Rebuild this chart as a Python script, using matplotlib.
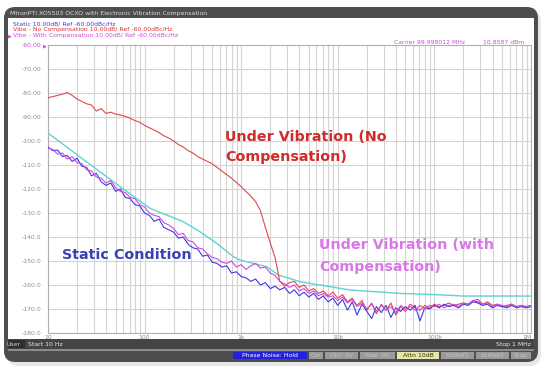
import matplotlib
matplotlib.use("Agg")
import matplotlib.pyplot as plt
from matplotlib.patches import FancyBboxPatch
from matplotlib.transforms import IdentityTransform

W, H = 541, 366

# ---------------- data ----------------
freq_hz = [
    10, 11.2, 12.6, 14.1, 15.8, 17.8, 20, 22.4, 25.1, 28.2,
    31.6, 35.5, 39.8, 44.7, 50.1, 56.2, 63.1, 70.8, 79.4, 89.1,
    100, 112, 126, 141, 158, 178, 200, 224, 251, 282,
    316, 355, 398, 447, 501, 562, 631, 708, 794, 891,
    1000, 1120, 1260, 1410, 1580, 1780, 2000, 2240, 2510, 2820,
    3160, 3550, 3980, 4470, 5010, 5620, 6310, 7080, 7940, 8910,
    10000, 11200, 12600, 14100, 15800, 17800, 20000, 22400, 25100, 28200,
    31600, 35500, 39800, 44700, 50100, 56200, 63100, 70800, 79400, 89100,
    100000, 112000, 126000, 141000, 158000, 178000, 200000, 224000, 251000, 282000,
    316000, 355000, 398000, 447000, 501000, 562000, 631000, 708000, 794000, 891000,
    1000000,
]

static_dbc = [
    -102.5, -104.0, -103.8, -106.5, -106.0, -108.5, -107.2, -110.5, -111.0, -114.5,
    -113.5, -117.0, -118.5, -117.5, -121.0, -120.0, -123.5, -124.0, -126.5, -127.0,
    -130.0, -131.0, -133.5, -132.5, -136.0, -137.0, -138.0, -140.5, -140.0, -143.0,
    -144.5, -145.0, -148.0, -147.5, -150.5, -151.0, -152.5, -152.0, -155.0, -154.5,
    -156.5, -157.0, -158.5, -157.5, -160.0, -159.0, -161.5, -160.5, -162.0, -161.0,
    -163.5, -162.0, -164.5, -163.0, -165.0, -163.5, -166.0, -164.5, -167.0, -165.5,
    -168.5, -166.0, -170.5, -167.0, -172.5, -168.0, -171.0, -174.0, -169.0, -171.5,
    -168.5, -173.5, -169.5, -171.0, -169.0, -170.5, -168.5, -175.0, -169.5, -170.0,
    -168.5, -169.5, -168.0, -169.0, -168.5, -169.5, -168.0, -168.5, -167.0, -167.5,
    -168.5, -168.0, -169.5, -168.5, -169.0, -169.5, -168.5, -169.5, -169.0, -169.5,
    -169.0,
]

vibe_with_comp_dbc = [
    -103.0, -103.5, -105.5, -105.0, -107.5, -106.5, -109.0, -109.5, -112.0, -112.5,
    -115.0, -115.5, -117.5, -116.5, -119.5, -121.0, -121.5, -123.5, -124.0, -126.5,
    -127.5, -130.0, -131.0, -131.5, -134.0, -135.0, -136.5, -139.0, -138.5, -141.5,
    -142.0, -144.5, -145.0, -147.0, -148.5, -149.0, -150.5, -151.0, -150.0, -152.5,
    -151.5, -153.5, -152.0, -151.0, -153.0, -152.5, -155.0, -156.0, -158.5, -159.5,
    -161.0, -160.0, -162.5, -161.5, -163.5, -162.5, -164.5, -163.5, -165.0, -164.5,
    -166.5, -165.0, -167.5, -166.0, -169.0, -167.5, -170.0, -168.0, -171.0, -168.5,
    -170.5, -169.0, -171.5, -168.5, -170.0, -169.0, -170.5, -168.5, -170.0, -168.5,
    -169.0, -168.0, -169.5, -168.5, -168.0, -169.0, -167.5, -168.0, -166.5, -166.0,
    -168.0, -167.5, -169.0, -168.0, -168.5, -169.0, -168.0, -169.0, -168.5, -169.0,
    -168.5,
]

vibe_no_comp_dbc = [
    -82.0, -81.5, -81.0, -80.5, -79.8, -81.0, -82.5, -83.5, -84.5, -85.0,
    -87.5, -86.5, -88.5, -88.0, -88.8, -89.2, -89.8, -90.5, -91.5, -92.2,
    -93.5, -94.5, -95.5, -96.5, -97.8, -98.8, -100.0, -101.5, -102.5, -104.0,
    -105.0, -106.5, -107.5, -108.5, -109.5, -111.0, -112.5, -114.0, -115.5, -117.3,
    -119.0, -121.0, -123.0, -125.3, -129.0, -136.0, -142.5, -148.5, -158.5, -160.5,
    -159.0, -158.5, -161.0, -160.0, -162.5, -161.5, -163.5, -162.5, -164.5, -163.0,
    -165.5, -164.0, -167.0, -165.5, -168.5, -166.5, -170.5, -167.5, -172.0, -168.0,
    -170.5, -167.5, -172.5, -169.0, -171.0, -168.0, -169.5, -170.5, -168.5, -169.5,
    -168.0, -169.0, -168.5, -167.5, -168.5, -168.0, -167.5, -168.0, -166.5, -167.0,
    -168.0, -167.0, -168.5, -168.0, -169.0, -168.5, -168.0, -169.0, -168.5, -169.0,
    -168.5,
]

limit_freq_hz = [10, 44, 114, 251, 374, 557, 828, 973, 1840, 2420, 4060,
                 13400, 44000, 100000, 200000, 1000000]
limit_dbc = [-96.7, -116.0, -128.1, -133.6, -137.8, -142.6, -148.2, -149.6,
             -152.4, -155.8, -158.6, -162.1, -163.5, -164.0, -164.6, -164.6]

y_ticks = [-180, -170, -160, -150, -140, -130, -120, -110, -100, -90, -80, -70]
y_tick_labels = ["-180.0", "-170.0", "-160.0", "-150.0", "-140.0", "-130.0",
                 "-120.0", "-110.0", "-100.0", "-90.00", "-80.00", "-70.00"]
x_ticks = [10, 100, 1000, 10000, 100000, 1000000]
x_tick_labels = ["10", "100", "1k", "10k", "100k", "1M"]

# ---------------- colours ----------------
C_RED = "#e04848"
C_BLUE = "#3b3be0"
C_MAG = "#d048e0"
C_CYAN = "#5fd3cf"
C_FRAME = "#4e4e4e"

fig = plt.figure(figsize=(W / 100, H / 100), dpi=100)
fig.patch.set_facecolor("white")


def box(x0, y0, x1, y1, color, r=0, z=0, ec="none", lw=0, alpha=1.0):
    style = f"round,pad=0,rounding_size={r}" if r else "square,pad=0"
    p = FancyBboxPatch((x0, H - y1), x1 - x0, y1 - y0, boxstyle=style,
                       transform=IdentityTransform(), facecolor=color,
                       edgecolor=ec, linewidth=lw, zorder=z, alpha=alpha)
    fig.add_artist(p)


def ftext(x, y, s, **kw):
    kw.setdefault("va", "center")
    fig.text(x / W, 1 - y / H, s, **kw)


# shadow + frame
box(7, 10, 541, 366, "#d8d8d8", r=12, z=-3, alpha=0.6)
box(4, 7, 538, 362, C_FRAME, r=11, z=-2)
box(8, 18, 534, 339, "white", z=-1)
# bottom status bar
box(8, 339, 534, 349, "#444444", z=-1)
box(8, 349, 534, 351, "#8c8c8c", z=-1)
box(8, 340, 25, 348, "#2e2e2e", z=0)

# title
ftext(10, 13.5, "MtronPTI XO5503 OCXO with Electronic Vibration Compensation",
      color="#dcdcdc", fontsize=4.4)
# header legend lines
ftext(13, 23.5, "Static 10.00dB/ Ref -60.00dBc/Hz", color=C_BLUE, fontsize=4.4)
ftext(13, 29.5, "Vibe - No Compensation 10.00dB/ Ref -60.00dBc/Hz", color="#e03030", fontsize=4.4)
ftext(7.5, 35.5, "\u25B6", color=C_MAG, fontsize=3.6)
ftext(13, 35.5, "Vibe - With Compensation 10.00dB/ Ref -60.00dBc/Hz", color=C_MAG, fontsize=4.4)
ftext(465, 42.5, "Carrier 99.998012 MHz", color=C_MAG, fontsize=4.4, ha="right")
ftext(524, 42.5, "10.8587 dBm", color=C_MAG, fontsize=4.4, ha="right")
ftext(41, 45.5, "-60.00", color=C_MAG, fontsize=4.4, ha="right")
ftext(42.5, 45.5, "\u25B6", color=C_MAG, fontsize=3.6)

# status bar texts
ftext(6.5, 344.5, "User", color="#d0d0d0", fontsize=4.4)
ftext(28, 344.5, "Start 10 Hz", color="#e8e8e8", fontsize=4.4)
ftext(531, 344.5, "Stop 1 MHz", color="#e8e8e8", fontsize=4.4, ha="right")

# buttons
buttons = [
    (233, 307, "Phase Noise: Hold", "#2222dd", "white"),
    (309, 323, "Cor", "#9a9a9a", "#c4c4c4"),
    (325, 358, "Ctrl  0V", "#9a9a9a", "#c4c4c4"),
    (360, 395, "Pow  0V", "#9a9a9a", "#c4c4c4"),
    (397, 439, "Attn 10dB", "#e6e6a6", "#303010"),
    (441, 474, "ExtRef1", "#9a9a9a", "#c4c4c4"),
    (476, 509, "ExtRef2", "#9a9a9a", "#c4c4c4"),
    (511, 531, "Stop", "#9a9a9a", "#c4c4c4"),
]
for x0, x1, lab, bg, fg in buttons:
    box(x0, 352, x1, 359, bg, z=1)
    ftext((x0 + x1) / 2, 355.5, lab, color=fg, fontsize=4.4, ha="center", zorder=2)

# ---------------- plot ----------------
ax = fig.add_axes([48 / W, 1 - 333 / H, 483 / W, 288 / H])
ax.set_facecolor("white")
ax.set_xscale("log")
ax.set_xlim(10, 1e6)
ax.set_ylim(-180, -60)

ax.plot(limit_freq_hz, limit_dbc, color=C_CYAN, lw=1.0, zorder=3)
ax.plot(freq_hz, vibe_no_comp_dbc, color=C_RED, lw=0.8, zorder=4)
ax.plot(freq_hz, static_dbc, color=C_BLUE, lw=0.8, zorder=5)
ax.plot(freq_hz, vibe_with_comp_dbc, color=C_MAG, lw=0.8, zorder=6)

ax.set_yticks(y_ticks)
ax.set_yticklabels(y_tick_labels)
ax.set_xticks(x_ticks)
ax.set_xticklabels(x_tick_labels)
ax.xaxis.set_minor_locator(matplotlib.ticker.LogLocator(base=10, subs=range(2, 10)))
ax.xaxis.set_minor_formatter(matplotlib.ticker.NullFormatter())
ax.tick_params(axis="both", which="both", length=0, labelsize=4.4, labelcolor="#8c8c8c")
ax.tick_params(axis="y", pad=5)
ax.tick_params(axis="x", pad=1.5)
for lab in ax.get_xticklabels():
    lab.set_ha("center")
ax.get_xticklabels()[-1].set_ha("right")
ax.grid(True, which="both", axis="x", color="#d4d4d4", lw=0.8)
ax.grid(True, which="major", axis="y", color="#d4d4d4", lw=0.8)
for s in ax.spines.values():
    s.set_color("#b0b0b0")
    s.set_linewidth(0.8)

# annotations
ann = dict(fontsize=10.3, fontweight="bold", family="DejaVu Sans", va="center")
ftext(225, 137, "Under Vibration (No", color="#d02a2a", **ann)
ftext(225, 157, "Compensation)", color="#d02a2a", **ann)
ftext(62, 255, "Static Condition", color="#3a40b8", **ann)
ftext(319, 245, "Under Vibration (with", color="#d878e6", **ann)
ftext(319, 267, "Compensation)", color="#d878e6", **ann)

fig.savefig("out.png", dpi=100, facecolor=fig.get_facecolor())
